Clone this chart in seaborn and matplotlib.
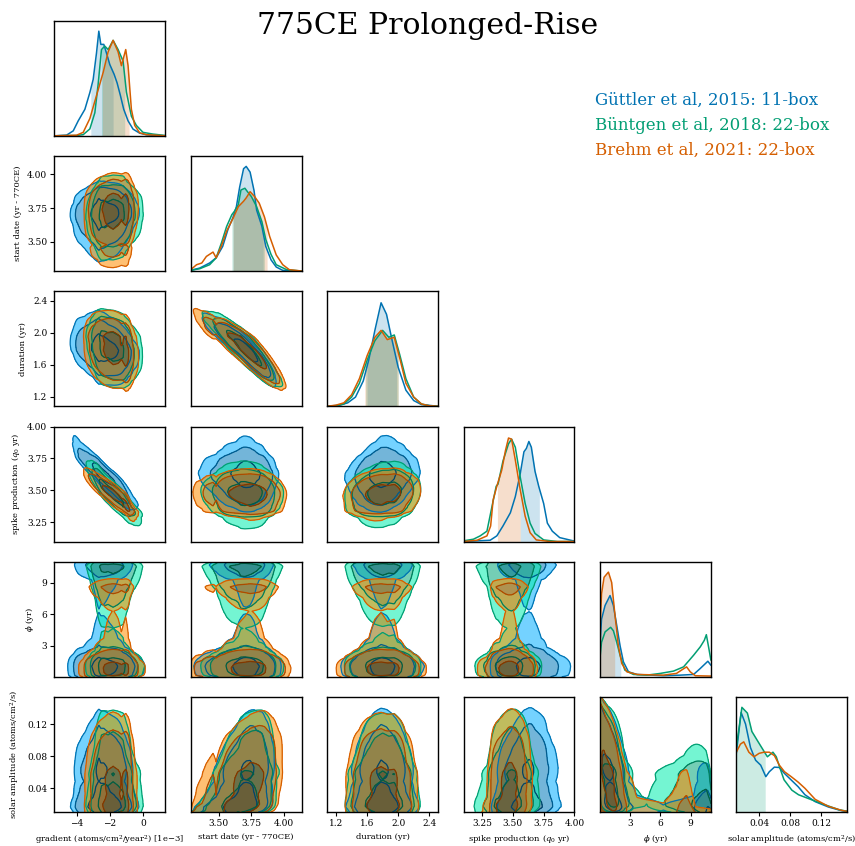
import math
import numpy as np
import pandas as pd
import matplotlib
matplotlib.use("Agg")
import matplotlib.pyplot as plt
from matplotlib.colors import to_rgb
import seaborn as sns

# ---------------------------------------------------------------- chains
chain_names = ["Güttler et al, 2015: 11-box",
               "Büntgen et al, 2018: 22-box",
               "Brehm et al, 2021: 22-box"]
chain_colours = ["#0173B2", "#029E73", "#D55E00"]

# ------------------------------------------------------------ parameters
param_labels = [
    "gradient (atoms/cm$^2$/year$^2$) [1e\u22123]",
    "start date (yr - 770CE)",
    "duration (yr)",
    "spike production ($q_0$ yr)",
    r"$\phi$ (yr)",
    "solar amplitude (atoms/cm$^2$/s)",
]
param_limits = [(-5.34, 1.34), (3.285, 4.135), (1.084, 2.515),
                (3.10, 4.00), (0.04, 11.0), (0.0107, 0.154)]
param_ticks = [[-4, -2, 0], [3.50, 3.75, 4.00], [1.2, 1.6, 2.0, 2.4],
               [3.25, 3.50, 3.75, 4.00], [3, 6, 9], [0.04, 0.08, 0.12]]

# ------------------------------------------ marginal posteriors (x, relative density)
gradient_marg = {
    0: ([-5.34, -4.6, -4.2, -3.9, -3.5, -3.2, -3.0, -2.8, -2.66, -2.54, -2.36, -2.2, -2.0,
         -1.74, -1.56, -1.36, -1.16, -0.9, -0.6, -0.2, 0.2, 0.8, 1.34],
        [0, 0.6, 4.3, 13, 23, 37.6, 49, 72, 91, 79.5, 79.5, 72, 62,
         53.5, 46, 35, 23, 13, 5.8, 2.3, 0.9, 0.3, 0]),
    1: ([-5.34, -4.0, -3.6, -3.2, -2.9, -2.7, -2.5, -2.3, -2.1, -1.8, -1.5, -1.2, -1.0,
         -0.7, -0.4, 0.0, 0.6, 1.34],
        [0, 0.3, 1, 6, 20, 45, 75, 78, 75, 83, 75, 65, 38, 17, 9, 3, 1.5, 0.3]),
    2: ([-5.34, -4.0, -3.6, -3.2, -2.8, -2.4, -2.1, -1.8, -1.5, -1.3, -1.04, -0.9, -0.7,
         -0.5, -0.2, 0.2, 1.34],
        [0, 0.5, 3, 15, 35, 55, 73, 83, 73, 61, 75, 61, 23, 9, 2.6, 1, 0]),
}
start_marg = {
    0: ([3.285, 3.354, 3.43, 3.48, 3.53, 3.57, 3.61, 3.635, 3.66, 3.69, 3.71, 3.74, 3.77,
         3.79, 3.83, 3.86, 3.90, 3.94, 3.99, 4.135],
        [0.6, 2.6, 7, 11.5, 21.4, 36, 47, 56, 73, 89, 91, 86, 70, 53, 39, 21.4, 9.8, 3.5, 0.6, 0]),
    1: ([3.285, 3.354, 3.43, 3.48, 3.52, 3.56, 3.60, 3.62, 3.65, 3.67, 3.70, 3.72, 3.75,
         3.79, 3.83, 3.86, 3.90, 3.94, 4.02, 4.135],
        [0.6, 2, 5.5, 11.5, 24.3, 38.7, 49, 52, 57.8, 70.5, 72, 69, 64.7, 56, 43, 27.5, 14.5, 5.5, 1.2, 0]),
    2: ([3.285, 3.33, 3.37, 3.405, 3.456, 3.48, 3.52, 3.56, 3.61, 3.65, 3.69, 3.71, 3.74,
         3.775, 3.81, 3.85, 3.89, 3.94, 3.99, 4.04, 4.135],
        [1.2, 5.5, 7, 12.7, 16.5, 11.5, 21.7, 34.7, 46, 56, 60.7, 63.6, 69, 64.7, 59, 47, 30,
         14, 5.5, 1.2, 0]),
}
duration_marg = {
    0: ([1.084, 1.25, 1.35, 1.45, 1.55, 1.62, 1.70, 1.78, 1.85, 1.92, 2.0, 2.1, 2.2, 2.3, 2.515],
        [0, 1, 3, 8, 22, 40, 66, 90, 80, 58, 34, 14, 5, 1.5, 0]),
    1: ([1.084, 1.2, 1.3, 1.4, 1.5, 1.6, 1.7, 1.8, 1.88, 1.95, 2.02, 2.1, 2.2, 2.3, 2.4, 2.515],
        [0, 0.5, 2, 8, 20, 40, 57, 66, 60, 62, 45, 24, 8, 2, 0.5, 0]),
    2: ([1.084, 1.2, 1.3, 1.4, 1.5, 1.6, 1.7, 1.78, 1.86, 1.95, 2.02, 2.1, 2.2, 2.3, 2.4, 2.515],
        [0, 1, 3, 10, 24, 44, 60, 66, 58, 60, 42, 20, 8, 2, 0.5, 0]),
}
spike_marg = {
    0: ([3.10, 3.316, 3.37, 3.42, 3.48, 3.52, 3.56, 3.59, 3.61, 3.63, 3.65, 3.68, 3.71,
         3.75, 3.78, 3.82, 3.88, 3.99, 4.0],
        [0, 1.1, 4.9, 13.5, 25, 39, 59, 78, 81, 87, 82, 61, 48, 33, 16, 9, 3.4, 0.6, 0.5]),
    1: ([3.10, 3.18, 3.235, 3.29, 3.33, 3.365, 3.38, 3.42, 3.465, 3.49, 3.52, 3.56, 3.60,
         3.64, 3.68, 3.75, 3.86, 4.0],
        [0.6, 2, 4.9, 9, 30, 48, 50, 70, 85, 89, 82, 56, 33, 16, 7, 1.4, 0, 0]),
    2: ([3.10, 3.21, 3.29, 3.32, 3.34, 3.37, 3.41, 3.44, 3.465, 3.49, 3.52, 3.56, 3.60,
         3.64, 3.69, 3.80, 4.0],
        [0, 1.1, 4.9, 13.5, 36, 48, 62, 79, 90, 89, 71, 45, 22, 7.7, 1.4, 0, 0]),
}
phi_marg = {
    0: ([0.04, 0.2, 0.55, 1.04, 1.37, 1.7, 2.03, 2.36, 2.86, 3.7, 6.3, 7.97, 9.29, 9.95, 10.7, 11.0],
        [27, 50, 62, 70.6, 62, 44.7, 27, 13, 4.3, 2, 0.9, 1.4, 2, 7.2, 13.5, 10]),
    1: ([0.04, 0.2, 0.55, 1.1, 1.37, 1.7, 2.03, 2.5, 3.35, 4.67, 6.0, 7.3, 8.3, 9.29, 9.95,
         10.35, 10.55, 10.8, 11.0],
        [15.8, 30, 39, 43, 40, 30, 18.7, 5.8, 2, 1.4, 2.9, 4.9, 8.6, 18.7, 26, 31.7, 36.6, 24.5, 14.4]),
    2: ([0.04, 0.2, 0.45, 0.88, 1.2, 1.5, 1.86, 2.2, 2.7, 3.7, 6.3, 7.6, 8.1, 8.6, 8.96, 9.46, 11.0],
        [40, 72, 86.5, 91, 82, 56, 27, 11.5, 4.3, 2, 1.4, 2.9, 5.8, 8.6, 4.3, 0.9, 0.6]),
}
solar_marg = {
    0: ([0.0107, 0.0169, 0.0226, 0.029, 0.0356, 0.0422, 0.0488, 0.0533, 0.0598, 0.0663,
         0.0729, 0.0816, 0.0905, 0.0993, 0.1125, 0.1297, 0.1469, 0.154],
        [51, 86.5, 76.5, 56, 45, 40.7, 30.7, 35, 39, 38.7, 33.5, 27.8, 22, 15, 9, 4.3, 1.1, 0.5]),
    1: ([0.0107, 0.0179, 0.025, 0.0308, 0.038, 0.0444, 0.0508, 0.058, 0.0623, 0.0666,
         0.0723, 0.0824, 0.091, 0.108, 0.125, 0.143, 0.154],
        [56, 91, 86, 70, 62, 55, 48, 52, 48, 39, 28, 19, 15, 10.6, 6.3, 2, 0.6]),
    2: ([0.0107, 0.0160, 0.0203, 0.0269, 0.0335, 0.0401, 0.0465, 0.0533, 0.0599, 0.0663,
         0.0729, 0.0816, 0.0905, 0.0993, 0.1125, 0.1296, 0.1468, 0.154],
        [52, 59, 61, 52, 48, 51, 52, 52, 49, 40.7, 35, 30.7, 26, 20.6, 11, 4.9, 1.4, 0.5]),
}
marginals = [gradient_marg, start_marg, duration_marg, spike_marg, phi_marg, solar_marg]

# ------------------------------------------------ shaded 68% credible intervals
gradient_ci = {0: (-3.14, -1.8), 1: (-2.5, -1.1), 2: (-2.45, -0.84)}
start_ci = {0: (3.61, 3.84), 1: (3.60, 3.85), 2: (3.61, 3.87)}
duration_ci = {0: (1.60, 1.98), 1: (1.58, 2.0), 2: (1.57, 2.0)}
spike_ci = {0: (3.56, 3.715), 2: (3.375, 3.56)}
phi_ci = {0: (0.04, 2.1), 2: (0.04, 1.5)}
solar_ci = {1: (0.0107, 0.048)}
intervals = [gradient_ci, start_ci, duration_ci, spike_ci, phi_ci, solar_ci]

# ------------------------------------ pairwise rank correlations (per chain)
pair_corr = {
    (0, 1): (0.05, 0.05, 0.05),
    (0, 2): (-0.25, -0.2, -0.2),
    (0, 3): (-0.92, -0.9, -0.9),
    (0, 4): (0.0, 0.0, 0.0),
    (0, 5): (0.0, 0.0, 0.0),
    (1, 2): (-0.92, -0.9, -0.9),
    (1, 3): (-0.05, -0.05, -0.05),
    (1, 4): (0.0, 0.0, 0.0),
    (1, 5): (0.3, 0.3, 0.3),
    (2, 3): (0.15, 0.15, 0.15),
    (2, 4): (0.0, 0.0, 0.0),
    (2, 5): (0.0, 0.0, 0.0),
    (3, 4): (0.0, 0.0, 0.0),
    (3, 5): (0.1, 0.1, 0.1),
    (4, 5): (-0.5, -0.5, -0.5),
}

# enclosed probability of the three filled 2-D regions
contour_mass = [0.393, 0.865, 0.955]

# ------------------------------------------------------------------ style
sns.set_theme(style="white")
plt.rcParams["font.family"] = ["DejaVu Serif"]
plt.rcParams["mathtext.fontset"] = "dejavuserif"
for key in ("text.color", "axes.labelcolor", "xtick.color", "ytick.color", "axes.edgecolor"):
    plt.rcParams[key] = "black"
plt.rcParams["axes.linewidth"] = 1.0

NGRID = 180
_zt = np.linspace(-6, 6, 4001)
_pt = 0.5 * (1 + np.vectorize(math.erf)(_zt / math.sqrt(2)))


def grid_for(p):
    lo, hi = param_limits[p]
    return np.linspace(lo, hi, NGRID)


def marginal_scores(p, c):
    g = grid_for(p)
    xp, dp = marginals[p][c]
    f = np.interp(g, xp, dp, left=0.0, right=0.0)
    dx = g[1] - g[0]
    f = f / (f.sum() * dx)
    cdf = np.cumsum(f) * dx - 0.5 * f * dx
    cdf = np.clip(cdf, 1e-7, 1 - 1e-7)
    z = np.interp(cdf, _pt, _zt)
    return g, f, z


def pair_density(px, py, c):
    gx, fx, zx = marginal_scores(px, c)
    gy, fy, zy = marginal_scores(py, c)
    key = (min(px, py), max(px, py))
    rho = pair_corr[key][c]
    a = zx[None, :]
    b = zy[:, None]
    cop = np.exp(-(rho ** 2 * (a ** 2 + b ** 2) - 2 * rho * a * b) / (2 * (1 - rho ** 2)))
    cop /= math.sqrt(1 - rho ** 2)
    dens = fy[:, None] * fx[None, :] * cop
    return gx, gy, dens


def mass_levels(dens):
    flat = np.sort(dens.ravel())[::-1]
    cum = np.cumsum(flat)
    cum /= cum[-1]
    return [flat[min(np.searchsorted(cum, m), flat.size - 1)] for m in contour_mass]


def scaled(colour, factor):
    r, g, b = to_rgb(colour)
    return tuple(min(1.0, v * factor) for v in (r, g, b))


fill_scales = [1.5, 1.05, 0.7]
line_scales = [1.0, 0.8, 0.6]
FILL_ALPHA = 0.55

fig, axes = plt.subplots(6, 6, figsize=(8.55, 8.46), dpi=100)
fig.subplots_adjust(left=0.0635, right=0.991, bottom=0.0402, top=0.9754,
                    wspace=0.229, hspace=0.176)

for i in range(6):
    for j in range(6):
        ax = axes[i, j]
        if j > i:
            ax.remove()
            continue
        ax.set_xlim(param_limits[j])
        if i == j:
            # diagonal: marginal distributions
            rows = []
            for c in range(3):
                xp, dp = marginals[i][c]
                for xv, dv in zip(xp, dp):
                    rows.append({"value": xv, "density": dv, "chain": chain_names[c]})
            df = pd.DataFrame(rows)
            for c in range(3):
                if c in intervals[i]:
                    lo, hi = intervals[i][c]
                    xp = np.asarray(marginals[i][c][0], float)
                    dp = np.asarray(marginals[i][c][1], float)
                    inside = (xp > lo) & (xp < hi)
                    sx = np.concatenate([[lo], xp[inside], [hi]])
                    sy = np.concatenate([[np.interp(lo, xp, dp)], dp[inside], [np.interp(hi, xp, dp)]])
                    ax.fill_between(sx, 0, sy, color=chain_colours[c], alpha=0.2, lw=0)
            sns.lineplot(data=df, x="value", y="density", hue="chain",
                         hue_order=chain_names, palette=chain_colours,
                         estimator=None, sort=False, legend=False, lw=1.1, ax=ax)
            ax.set_ylim(0, 100)
        else:
            # lower triangle: 2-D credible regions
            ax.set_ylim(param_limits[i])
            for c in range(3):
                gx, gy, dens = pair_density(j, i, c)
                t1, t2, t3 = mass_levels(dens)
                fills = [scaled(chain_colours[c], s) for s in fill_scales]
                lines = [scaled(chain_colours[c], s) for s in line_scales]
                ax.contourf(gx, gy, dens, levels=[t3, t2, t1, dens.max() * 1.01],
                            colors=fills, alpha=FILL_ALPHA)
                ax.contour(gx, gy, dens, levels=[t3, t2, t1], colors=lines,
                           linewidths=0.9)
        ax.set_xlabel("")
        ax.set_ylabel("")
        # ticks only on the outer edge of the triangle
        if i == 5:
            ax.set_xticks(param_ticks[j])
            ax.set_xlabel(param_labels[j], fontsize=6)
        else:
            ax.set_xticks([])
        if j == 0 and i > 0:
            ax.set_yticks(param_ticks[i])
            ax.set_ylabel(param_labels[i], fontsize=6)
        else:
            ax.set_yticks([])
        ax.tick_params(axis="both", labelsize=6.5, length=3, width=0.8,
                       direction="out", bottom=(i == 5), left=(j == 0 and i > 0), pad=2)
        for sp in ax.spines.values():
            sp.set_color("black")
            sp.set_linewidth(1.0)

fig.suptitle("775CE Prolonged-Rise", fontsize=21.5, x=0.5, y=0.969, va="center")
for c, (name, col) in enumerate(zip(chain_names, chain_colours)):
    fig.text(0.696, 0.881 - 0.0295 * c, name, color=col, fontsize=12,
             ha="left", va="center")

fig.savefig("out.png", dpi=100)
